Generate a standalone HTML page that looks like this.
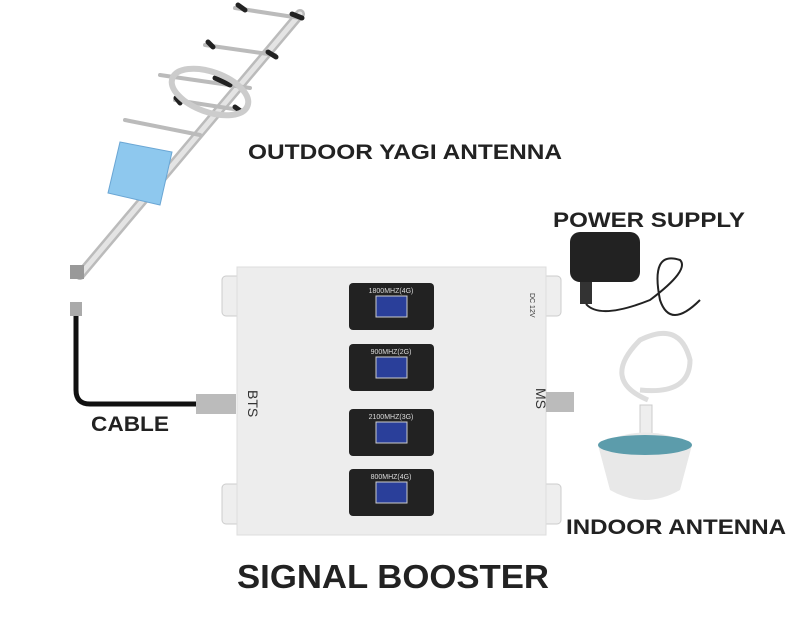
<!DOCTYPE html>
<html><head><style>body{margin:0;background:#fff}svg{display:block}text{font-family:"Liberation Sans",sans-serif}</style></head><body>
<svg width="800" height="632" viewBox="0 0 800 632">
<!-- yagi antenna -->
<g stroke-linecap="round">
<line x1="300" y1="14" x2="80" y2="275" stroke="#bbb" stroke-width="10"/>
<line x1="300" y1="14" x2="80" y2="275" stroke="#e4e4e4" stroke-width="5"/>
<g stroke="#bbb" stroke-width="4">
<line x1="235" y1="8" x2="300" y2="18"/><line x1="205" y1="45" x2="275" y2="55"/>
<line x1="160" y1="75" x2="250" y2="88"/><line x1="175" y1="100" x2="240" y2="110"/>
<line x1="125" y1="120" x2="200" y2="135"/></g>
<g stroke="#222" stroke-width="5"><line x1="238" y1="5" x2="245" y2="10"/><line x1="292" y1="14" x2="302" y2="18"/><line x1="208" y1="42" x2="213" y2="47"/><line x1="268" y1="52" x2="276" y2="57"/><line x1="215" y1="78" x2="230" y2="85"/><line x1="235" y1="107" x2="242" y2="112"/><line x1="176" y1="98" x2="180" y2="103"/></g>
<ellipse cx="210" cy="92" rx="40" ry="20" fill="none" stroke="#ccc" stroke-width="6" transform="rotate(20 210 92)"/>
</g>
<polygon points="120,142 172,152 160,205 108,193" fill="#8ec8ee" stroke="#6aa6d4"/>
<rect x="70" y="265" width="14" height="14" fill="#999"/>
<!-- cable -->
<rect x="70" y="302" width="12" height="14" fill="#aaa"/>
<path d="M76 316 L76 390 Q76 404 90 404 L208 404" fill="none" stroke="#111" stroke-width="5"/>
<rect x="196" y="394" width="40" height="20" fill="#bbb"/>
<!-- booster -->
<rect x="222" y="276" width="20" height="40" rx="4" fill="#eee" stroke="#ccc"/>
<rect x="222" y="484" width="20" height="40" rx="4" fill="#eee" stroke="#ccc"/>
<rect x="541" y="276" width="20" height="40" rx="4" fill="#eee" stroke="#ccc"/>
<rect x="541" y="484" width="20" height="40" rx="4" fill="#eee" stroke="#ccc"/>
<rect x="237" y="267" width="309" height="268" fill="#ededed" stroke="#ddd"/>
<rect x="546" y="392" width="28" height="20" fill="#bbb"/>
<g font-size="7" fill="#ddd" text-anchor="middle">
<g><rect x="349" y="283" width="85" height="47" rx="4" fill="#222"/><rect x="376" y="296" width="31" height="21" fill="#2a3f9a" stroke="#ccc"/><text x="391" y="293">1800MHZ(4G)</text></g>
<g><rect x="349" y="344" width="85" height="47" rx="4" fill="#222"/><rect x="376" y="357" width="31" height="21" fill="#2a3f9a" stroke="#ccc"/><text x="391" y="354">900MHZ(2G)</text></g>
<g><rect x="349" y="409" width="85" height="47" rx="4" fill="#222"/><rect x="376" y="422" width="31" height="21" fill="#2a3f9a" stroke="#ccc"/><text x="391" y="419">2100MHZ(3G)</text></g>
<g><rect x="349" y="469" width="85" height="47" rx="4" fill="#222"/><rect x="376" y="482" width="31" height="21" fill="#2a3f9a" stroke="#ccc"/><text x="391" y="479">800MHZ(4G)</text></g>
</g>
<text transform="translate(248,390) rotate(90)" font-size="14" fill="#333">BTS</text>
<text transform="translate(536,388) rotate(90)" font-size="14" fill="#333">MS</text>
<text transform="translate(530,293) rotate(90)" font-size="7" fill="#333">DC 12V</text>
<!-- power supply -->
<rect x="570" y="232" width="70" height="50" rx="10" fill="#222"/>
<rect x="580" y="282" width="12" height="22" fill="#333"/>
<path d="M586 304 Q600 320 650 300 Q690 270 680 260 Q650 250 660 300 Q670 330 700 300" fill="none" stroke="#222" stroke-width="2"/>
<!-- indoor antenna -->
<path d="M648 400 Q600 380 640 340 Q680 320 690 360 Q690 395 640 390" fill="none" stroke="#ddd" stroke-width="5"/>
<rect x="640" y="405" width="12" height="30" fill="#eee" stroke="#ccc"/>
<path d="M598 445 Q645 420 692 445 L680 490 Q645 510 610 490 Z" fill="#e8e8e8"/>
<ellipse cx="645" cy="445" rx="47" ry="10" fill="#5c9cab"/>
<!-- labels -->
<g font-weight="bold" fill="#222" lengthAdjust="spacingAndGlyphs">
<text x="248" y="159" font-size="21" textLength="314" lengthAdjust="spacingAndGlyphs">OUTDOOR YAGI ANTENNA</text>
<text x="553" y="227" font-size="21" textLength="192" lengthAdjust="spacingAndGlyphs">POWER SUPPLY</text>
<text x="91" y="431" font-size="21" textLength="78" lengthAdjust="spacingAndGlyphs">CABLE</text>
<text x="566" y="534" font-size="21" textLength="220" lengthAdjust="spacingAndGlyphs">INDOOR ANTENNA</text>
<text x="237" y="588" font-size="33" textLength="312" lengthAdjust="spacingAndGlyphs">SIGNAL BOOSTER</text>
</g>
</svg>
</body></html>
